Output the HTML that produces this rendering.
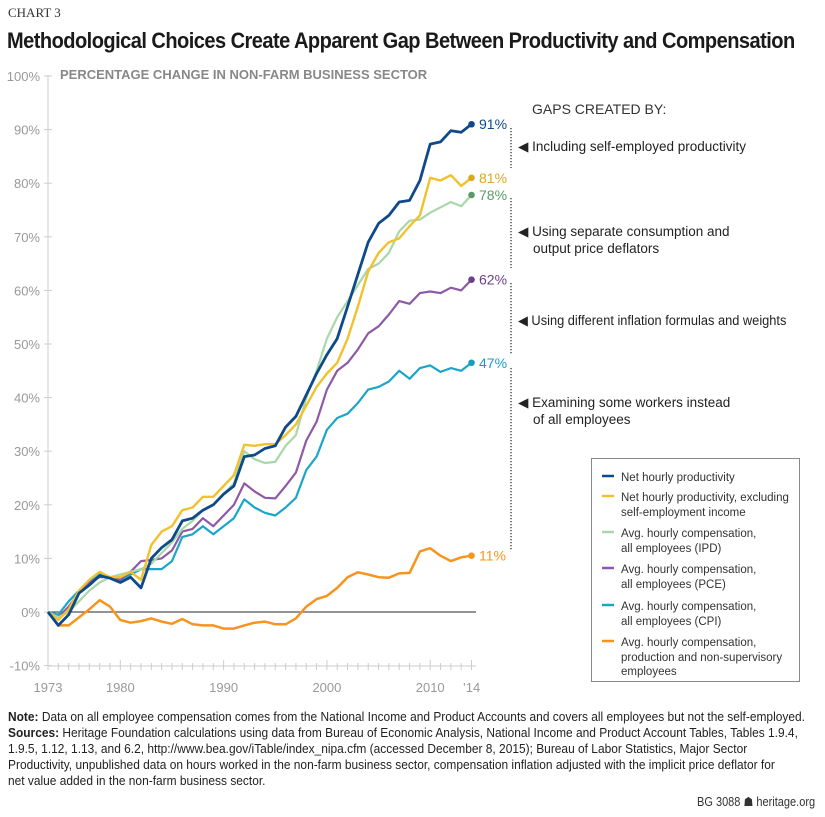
<!DOCTYPE html>
<html><head><meta charset="utf-8"><style>
body{margin:0;width:825px;height:817px;background:#fff;position:relative;overflow:hidden;font-family:"Liberation Sans",sans-serif;}
.a{position:absolute;white-space:nowrap}
.n{position:absolute;left:8px;white-space:nowrap;font-size:12.5px;color:#222;transform-origin:0 0;transform:scaleX(0.955)}
</style></head><body>
<div class="a" style="left:8px;top:5px;font-family:'Liberation Serif',serif;font-size:13px;color:#333">CHART 3</div>
<div class="a" style="left:7px;top:28px;font-size:22.5px;font-weight:bold;color:#1a1a1a;letter-spacing:-0.6px;transform-origin:0 0;transform:scaleX(0.89)">Methodological Choices Create Apparent Gap Between Productivity and Compensation</div>
<div class="a" style="left:60px;top:67px;font-size:13px;font-weight:bold;color:#888">PERCENTAGE CHANGE IN NON-FARM BUSINESS SECTOR</div>
<svg id="s" class="a" style="left:0;top:0" width="825" height="817"></svg>
<div class="a" style="left:532px;top:101px;font-size:14px;color:#333">GAPS CREATED BY:</div>
<div class="a" style="left:518px;top:139px;font-size:13.5px;color:#222">◀ Including self-employed productivity</div>
<div class="a" style="left:518px;top:223px;font-size:13.5px;color:#222;line-height:17px">◀ Using separate consumption and<br>&nbsp;&nbsp;&nbsp;&nbsp;output price deflators</div>
<div class="a" style="left:518px;top:313px;font-size:13.5px;color:#222;transform-origin:0 0;transform:scaleX(0.95)">◀ Using different inflation formulas and weights</div>
<div class="a" style="left:518px;top:394px;font-size:13.5px;color:#222;line-height:17px">◀ Examining some workers instead<br>&nbsp;&nbsp;&nbsp;&nbsp;of all employees</div>
<div class="a" style="left:591px;top:458px;width:207px;height:222px;border:1px solid #888;font-size:11.5px;color:#333;line-height:14.5px">
<div style="position:absolute;left:29px;top:12px">Net hourly productivity</div>
<div style="position:absolute;left:29px;top:32px">Net hourly productivity, excluding<br>self-employment income</div>
<div style="position:absolute;left:29px;top:68px">Avg. hourly compensation,<br>all employees (IPD)</div>
<div style="position:absolute;left:29px;top:104px">Avg. hourly compensation,<br>all employees (PCE)</div>
<div style="position:absolute;left:29px;top:141px">Avg. hourly compensation,<br>all employees (CPI)</div>
<div style="position:absolute;left:29px;top:177px">Avg. hourly compensation,<br>production and non-supervisory<br>employees</div>
</div>
<div class="n" style="top:710px"><b>Note:</b> Data on all employee compensation comes from the National Income and Product Accounts and covers all employees but not the self-employed.</div>
<div class="n" style="top:726px"><b>Sources:</b> Heritage Foundation calculations using data from Bureau of Economic Analysis, National Income and Product Account Tables, Tables 1.9.4,</div>
<div class="n" style="top:742px">1.9.5, 1.12, 1.13, and 6.2, http://www.bea.gov/iTable/index_nipa.cfm (accessed December 8, 2015); Bureau of Labor Statistics, Major Sector</div>
<div class="n" style="top:758px">Productivity, unpublished data on hours worked in the non-farm business sector, compensation inflation adjusted with the implicit price deflator for</div>
<div class="n" style="top:774px">net value added in the non-farm business sector.</div>
<div class="a" style="left:697px;top:794px;font-size:12.5px;color:#333;transform-origin:0 0;transform:scaleX(0.88)">BG 3088 ☗ heritage.org</div>
<script>
var s=document.getElementById('s'),h='';
function X(y){return 48+(y-1973)*10.33}
function Y(v){return 612-v*5.36}
h+='<line x1="48" y1="75" x2="48" y2="666" stroke="#ccc"/>';
for(var v=-10;v<=100;v+=10){h+='<line x1="44" x2="52" y1="'+Y(v)+'" y2="'+Y(v)+'" stroke="#ccc"/><text x="40" y="'+(Y(v)+5)+'" text-anchor="end" font-size="13" fill="#999" font-family="Liberation Sans">'+v+'%</text>';}
h+='<line x1="48" y1="666" x2="476" y2="666" stroke="#ccc"/>';
for(var y=1973;y<=2014;y++){h+='<line x1="'+X(y)+'" x2="'+X(y)+'" y1="'+(y%10==0||y==1973||y==2014?660:663)+'" y2="670" stroke="#ccc"/>';}
[[1973,'1973'],[1980,'1980'],[1990,'1990'],[2000,'2000'],[2010,'2010'],[2014,'\u201914']].forEach(function(t){h+='<text x="'+X(t[0])+'" y="692" text-anchor="middle" font-size="13" fill="#999" font-family="Liberation Sans">'+t[1]+'</text>';});
h+='<line x1="48" x2="476" y1="612" y2="612" stroke="#555" stroke-width="1.2"/>';
var D=[
['#f7941d',2.5,[0,-2.5,-2.5,-1,.5,2.2,1,-1.5,-2,-1.7,-1.2,-1.8,-2.2,-1.3,-2.3,-2.5,-2.5,-3.1,-3.1,-2.5,-2,-1.8,-2.3,-2.3,-1.2,1,2.4,3,4.5,6.5,7.4,7,6.5,6.4,7.2,7.3,11.3,11.9,10.5,9.5,10.2,10.5],'11%'],
['#1ba6c9',2.2,[0,-.5,2,4,5.5,7,6.5,6,7,8,8,8,9.5,14,14.5,16,14.5,16,17.5,21,19.5,18.5,18,19.5,21.3,26.5,29,34,36.2,37,39,41.5,42,43,45,43.5,45.5,46,44.8,45.5,45,46.5],'47%'],
['#8e5aa8',2.2,[0,-1,1,3.5,5.5,6.5,6.5,6,7.5,9.5,9.7,10,11.5,15,15.5,17.5,16,18,20,24,22.5,21.3,21.2,23.5,26,32,35.5,41.5,45,46.5,49,52,53.3,55.5,58,57.5,59.5,59.8,59.5,60.5,60,62],'62%'],
['#a8d8a8',2.2,[0,-1,0,2,4,5.5,6.5,7,7.5,8,9,11,13,15.5,17,19,20,22,24,30,28.5,27.8,28,31,33,40,45,51,55,58,61,64,65,67,71,73,73.2,74.5,75.5,76.5,75.7,77.8],'78%'],
['#f2c12e',2.4,[0,-1.5,.5,4,6,7.5,6.5,6.5,7.5,6,12.5,15,16,19,19.5,21.5,21.5,23.5,25.5,31.2,31,31.3,31.3,33,35,38.5,42,44.5,46.5,51,57,63.5,67,69,69.7,72,74,81,80.5,81.5,79.5,81],'81%'],
['#0e4a8a',2.8,[0,-2.5,-.5,3.5,5,6.8,6.3,5.5,6.5,4.5,10,12,13.5,17,17.5,19,20,22,23.5,29,29.3,30.5,31,34.5,36.5,40.5,44.5,48,51,57,63,69,72.5,74,76.5,76.8,80.5,87.3,87.7,89.8,89.5,91],'91%']];
var lc={'11%':'#f7941d','47%':'#1a9cc0','62%':'#6b3f8a','78%':'#5a9a6a','81%':'#d9a820','91%':'#0e4a8a'};
D.forEach(function(d){var p=d[2].map(function(v,i){return X(1973+i).toFixed(1)+','+Y(v).toFixed(1)}).join(' ');
h+='<polyline points="'+p+'" fill="none" stroke="'+d[0]+'" stroke-width="'+d[1]+'" stroke-linejoin="round"/>';
var lv=d[2][41];h+='<circle cx="'+X(2014)+'" cy="'+Y(lv)+'" r="3.3" fill="'+lc[d[3]]+'"/><text x="479" y="'+(Y(lv)+5)+'" font-size="14" fill="'+lc[d[3]]+'" font-family="Liberation Sans">'+d[3]+'</text>';});
[[128,168],[198,268],[283,355],[368,550]].forEach(function(g){h+='<line x1="511" x2="511" y1="'+g[0]+'" y2="'+g[1]+'" stroke="#333" stroke-width="1.3" stroke-dasharray="1.3,1.7"/>';});
[['#0e4a8a',476],['#f2c12e',496],['#a8d8a8',532],['#8e5aa8',568],['#1ba6c9',605],['#f7941d',641]].forEach(function(l){h+='<line x1="602" x2="614" y1="'+l[1]+'" y2="'+l[1]+'" stroke="'+l[0]+'" stroke-width="2.5"/>';});
s.innerHTML=h;
</script>
</body></html>
